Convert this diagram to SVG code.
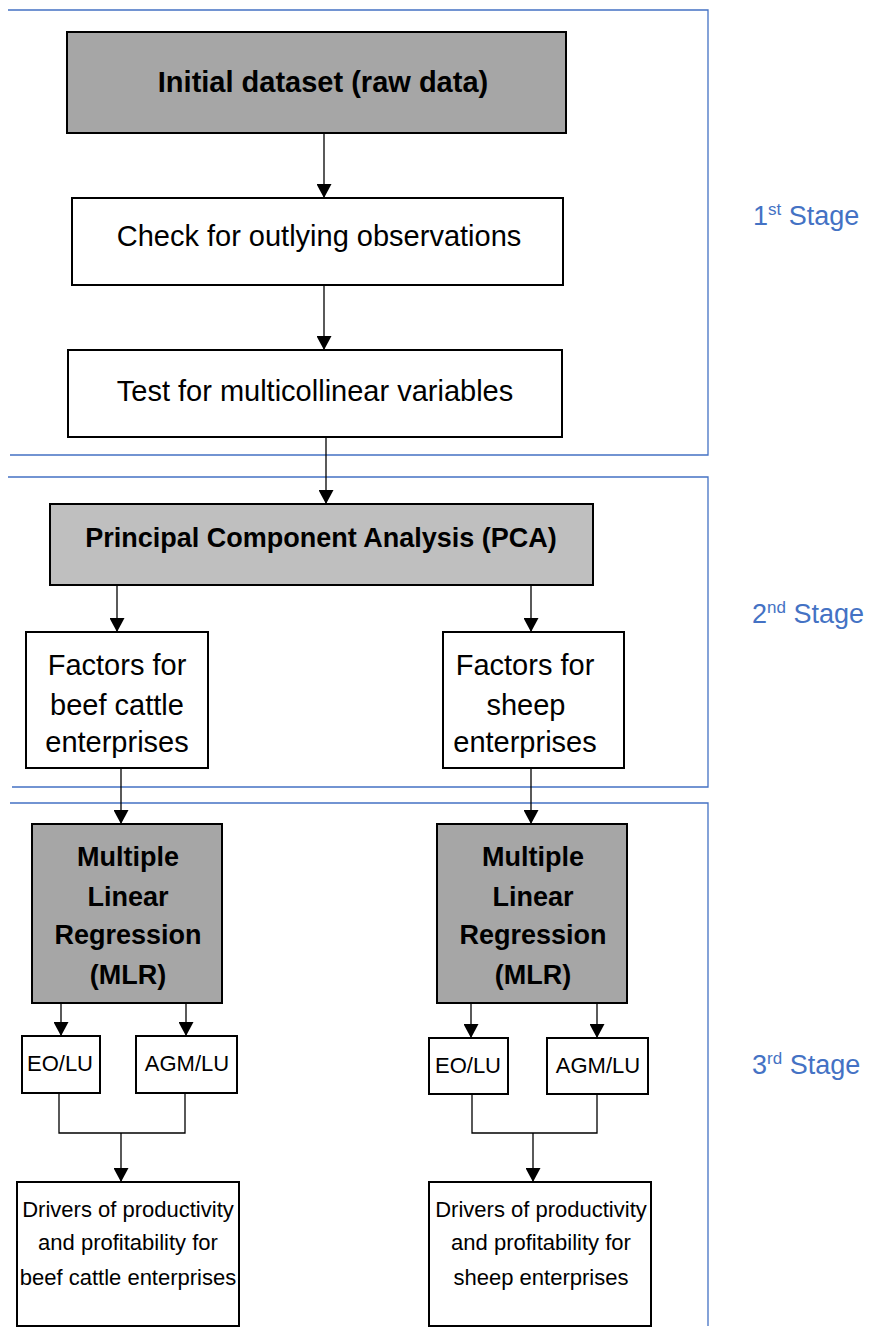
<svg xmlns="http://www.w3.org/2000/svg" width="870" height="1334" viewBox="0 0 870 1334">
<defs>
<style>
.frame{fill:none;stroke:#4472C4;stroke-width:1.3}
.box{stroke:#000;stroke-width:2;fill:#fff}
.dark{fill:#a6a6a6}
.light{fill:#bfbfbf}
.t{font-family:"Liberation Sans",Arial,sans-serif;fill:#000;text-anchor:middle}
.b{font-weight:bold}
.conn{fill:none;stroke:#000;stroke-width:1.3}
.stage{font-family:"Liberation Sans",Arial,sans-serif;fill:#4472C4;font-size:27px}
</style>
<marker id="ah" markerWidth="14" markerHeight="15" refX="14" refY="7.5" orient="auto" markerUnits="userSpaceOnUse"><path d="M0,0 L14,7.5 L0,15 z" fill="#000"/></marker>
</defs>
<rect width="870" height="1334" fill="#fff"/>
<g id="stages">
<path class="frame" d="M8,10 H708 V455 H10"/>
<path class="frame" d="M8,477 H708 V787 H12"/>
<path class="frame" d="M10,803 H708 V1326"/>
<text class="stage" x="753" y="225">1<tspan font-size="17" dy="-10">st</tspan><tspan dy="10"> Stage</tspan></text>
<text class="stage" x="752" y="623">2<tspan font-size="17" dy="-10">nd</tspan><tspan dy="10"> Stage</tspan></text>
<text class="stage" x="752" y="1074">3<tspan font-size="17" dy="-10">rd</tspan><tspan dy="10"> Stage</tspan></text>
</g>
<g id="connectors">
<path class="conn" d="M324,133 V198" marker-end="url(#ah)"/>
<path class="conn" d="M324,285 V350" marker-end="url(#ah)"/>
<path class="conn" d="M326,437 V504" marker-end="url(#ah)"/>
<path class="conn" d="M117,585 V632" marker-end="url(#ah)"/>
<path class="conn" d="M531,585 V632" marker-end="url(#ah)"/>
<path class="conn" d="M121,768 V824" marker-end="url(#ah)"/>
<path class="conn" d="M531,768 V824" marker-end="url(#ah)"/>
<path class="conn" d="M61,1003 V1036" marker-end="url(#ah)"/>
<path class="conn" d="M186,1003 V1036" marker-end="url(#ah)"/>
<path class="conn" d="M471,1003 V1038" marker-end="url(#ah)"/>
<path class="conn" d="M597,1003 V1038" marker-end="url(#ah)"/>
<path class="conn" d="M59,1093 V1133 H185 V1093"/>
<path class="conn" d="M121,1133 V1182" marker-end="url(#ah)"/>
<path class="conn" d="M472,1094 V1133 H597 V1094"/>
<path class="conn" d="M533,1133 V1182" marker-end="url(#ah)"/>
</g>
<g id="initial">
<rect class="box dark" x="67" y="32" width="499" height="101"/>
<text class="t b" x="323" y="92" font-size="29">Initial dataset (raw data)</text>
</g>
<g id="check">
<rect class="box" x="72" y="198" width="491" height="87"/>
<text class="t" x="319" y="246" font-size="29">Check for outlying observations</text>
</g>
<g id="test">
<rect class="box" x="68" y="350" width="494" height="87"/>
<text class="t" x="315" y="401" font-size="29">Test for multicollinear variables</text>
</g>
<g id="pca">
<rect class="box light" x="50" y="504" width="543" height="81"/>
<text class="t b" x="321" y="547" font-size="27">Principal Component Analysis (PCA)</text>
</g>
<g id="factors-beef">
<rect class="box" x="26" y="632" width="182" height="136"/>
<text class="t" font-size="29"><tspan x="117" y="675">Factors for</tspan><tspan x="117" y="715">beef cattle</tspan><tspan x="117" y="752">enterprises</tspan></text>
</g>
<g id="factors-sheep">
<rect class="box" x="443" y="632" width="181" height="136"/>
<text class="t" font-size="29"><tspan x="525" y="675">Factors for</tspan><tspan x="526" y="715">sheep</tspan><tspan x="525" y="752">enterprises</tspan></text>
</g>
<g id="mlr-beef">
<rect class="box dark" x="32" y="824" width="190" height="179"/>
<text class="t b" font-size="27"><tspan x="128" y="866">Multiple</tspan><tspan x="128" y="906">Linear</tspan><tspan x="128" y="944">Regression</tspan><tspan x="128" y="984">(MLR)</tspan></text>
</g>
<g id="mlr-sheep">
<rect class="box dark" x="437" y="824" width="190" height="179"/>
<text class="t b" font-size="27"><tspan x="533" y="866">Multiple</tspan><tspan x="533" y="906">Linear</tspan><tspan x="533" y="944">Regression</tspan><tspan x="533" y="984">(MLR)</tspan></text>
</g>
<g id="eo-beef">
<rect class="box" x="22" y="1036" width="78" height="57"/>
<text class="t" x="60" y="1071" font-size="22">EO/LU</text>
</g>
<g id="agm-beef">
<rect class="box" x="136" y="1036" width="101" height="57"/>
<text class="t" x="187" y="1071" font-size="22">AGM/LU</text>
</g>
<g id="eo-sheep">
<rect class="box" x="429" y="1038" width="79" height="56"/>
<text class="t" x="468" y="1073" font-size="22">EO/LU</text>
</g>
<g id="agm-sheep">
<rect class="box" x="547" y="1038" width="101" height="56"/>
<text class="t" x="598" y="1073" font-size="22">AGM/LU</text>
</g>
<g id="drivers-beef">
<rect class="box" x="17" y="1182" width="222" height="144"/>
<text class="t" font-size="22"><tspan x="128" y="1217">Drivers of productivity</tspan><tspan x="128" y="1250">and profitability for</tspan><tspan x="128" y="1285">beef cattle enterprises</tspan></text>
</g>
<g id="drivers-sheep">
<rect class="box" x="429" y="1182" width="222" height="144"/>
<text class="t" font-size="22"><tspan x="541" y="1217">Drivers of productivity</tspan><tspan x="541" y="1250">and profitability for</tspan><tspan x="541" y="1285">sheep enterprises</tspan></text>
</g>
</svg>
